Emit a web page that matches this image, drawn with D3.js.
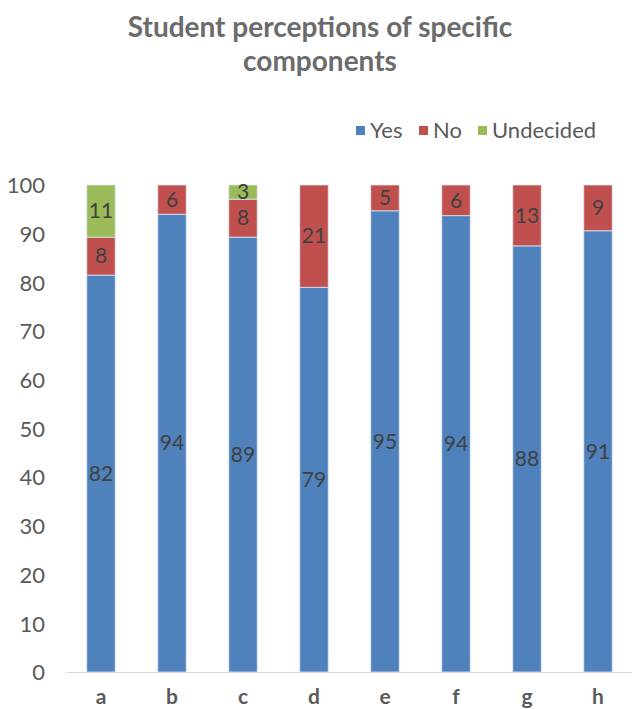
<!DOCTYPE html>
<html><head><meta charset="utf-8">
<script src="https://cdn.jsdelivr.net/npm/d3@7"></script>
<style>body{margin:0;background:#fff;}svg{display:block;}</style>
</head><body>
<svg id="c" width="632" height="709"></svg>
<script>
const categories = ["a","b","c","d","e","f","g","h"];
const yesValues = [81.5, 94.0, 89.3, 79.0, 94.7, 93.7, 87.5, 90.6];
const noValues = [7.8, 6.0, 7.8, 21.0, 5.3, 6.3, 12.5, 9.4];
const undecidedValues = [10.7, 0, 2.9, 0, 0, 0, 0, 0];
const yesLabels = ["82","94","89","79","95","94","88","91"];
const noLabels = ["8","6","8","21","5","6","13","9"];
const undecidedLabels = ["11","","3","","","","",""];
const seriesNames = ["Yes","No","Undecided"];
const seriesColors = ["#4f81bd","#c0504d","#9bbb59"];
const yTicks = [0,10,20,30,40,50,60,70,80,90,100];

const svg = d3.select("#c");
const font = "Lato, sans-serif";
const m = {left: 65.5, right: 632, top: 185, bottom: 672};

const x = d3.scaleBand().domain(categories).range([m.left, m.left + 71*8]).paddingInner(0.6).paddingOuter(0.3);
const y = d3.scaleLinear().domain([0,100]).range([m.bottom, m.top]);

const rows = categories.map((c,i)=>({cat:c, Yes:yesValues[i], No:noValues[i], Undecided:undecidedValues[i]}));
const labels = {Yes:yesLabels, No:noLabels, Undecided:undecidedLabels};
const stack = d3.stack().keys(seriesNames)(rows);

// title
svg.append("text").attr("x",320).attr("y",37).attr("text-anchor","middle")
  .attr("font-family",font).attr("font-weight","bold").attr("font-size",28).attr("fill","#6b6b6b")
  .text("Student perceptions of specific");
svg.append("text").attr("x",320).attr("y",71).attr("text-anchor","middle")
  .attr("font-family",font).attr("font-weight","bold").attr("font-size",28).attr("fill","#6b6b6b")
  .text("components");

// legend
const legendX = [356, 419, 478];
seriesNames.forEach((s,i)=>{
  const g = svg.append("g").attr("transform",`translate(${legendX[i]},124)`);
  g.append("rect").attr("width",9).attr("height",9).attr("y",2).attr("fill",seriesColors[i]);
  g.append("text").attr("x",14).attr("y",14).attr("font-family",font).attr("font-size",22)
    .attr("fill","#595959").text(s);
});

// y axis
const yAxis = d3.axisLeft(y).tickValues(yTicks).tickSize(0).tickPadding(0);
const ya = svg.append("g").attr("transform","translate(45,0)").call(yAxis);
ya.select(".domain").remove();
ya.selectAll("text").attr("font-family",font).attr("font-size",22).attr("fill","#595959").attr("dy","0.35em");

// bars
stack.forEach((layer,si)=>{
  svg.append("g").selectAll("rect").data(layer).join("rect")
    .attr("x",d=>x(d.data.cat)).attr("width",x.bandwidth())
    .attr("y",d=>y(d[1])).attr("height",d=>y(d[0])-y(d[1]))
    .attr("fill",seriesColors[si]).attr("stroke","#dfe7f2").attr("stroke-width",0.8);
  svg.append("g").selectAll("text").data(layer).join("text")
    .attr("x",d=>x(d.data.cat)+x.bandwidth()/2)
    .attr("y",d=>y((d[0]+d[1])/2)).attr("dy","0.35em")
    .attr("text-anchor","middle").attr("font-family",font).attr("font-size",21)
    .attr("fill","#404040")
    .text((d,i)=>labels[seriesNames[si]][i]);
});

// x axis
const xAxis = d3.axisBottom(x).tickSize(0).tickPadding(0);
const xa = svg.append("g").attr("transform",`translate(0,${m.bottom})`).call(xAxis);
xa.select(".domain").attr("d",`M${m.left},0.5H${m.right}`).attr("stroke","#d9d9d9").attr("stroke-width",1.2);
xa.selectAll("text").attr("font-family",font).attr("font-weight","bold").attr("font-size",21)
  .attr("fill","#595959").attr("dy","1.5em");
</script>
</body></html>
